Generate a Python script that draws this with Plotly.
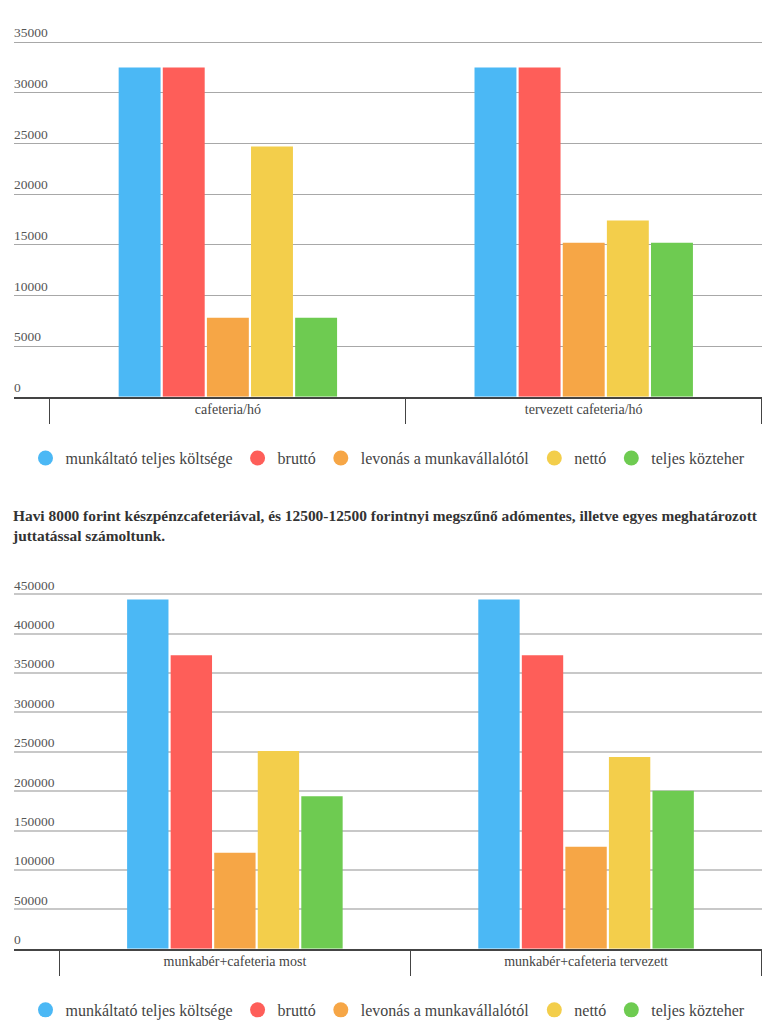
import plotly.graph_objects as go

# adatok
series = ["munkáltató teljes költsége", "bruttó", "levonás a munkavállalótól", "nettó", "teljes közteher"]
colors = ["#4BB8F5", "#FE5E59", "#F6A646", "#F3CE4B", "#6ECB51"]

cats_top = ["cafeteria/hó", "tervezett cafeteria/hó"]
vals_top = [
    [32500, 32500],
    [32500, 32500],
    [7800, 15200],
    [24700, 17400],
    [7800, 15200],
]

cats_bottom = ["munkabér+cafeteria most", "munkabér+cafeteria tervezett"]
vals_bottom = [
    [443500, 443500],
    [372500, 372500],
    [122000, 129500],
    [251000, 243500],
    [193500, 200500],
]

note = ("Havi 8000 forint készpénzcafeteriával, és 12500-12500 forintnyi megszűnő adómentes, illetve egyes meghatározott"
        "<br>juttatással számoltunk.")

FONT = "Liberation Serif"

fig = go.Figure()

for i, name in enumerate(series):
    fig.add_trace(go.Bar(x=cats_top, y=vals_top[i], name=name, marker_color=colors[i],
                         marker_line_width=0, showlegend=False, xaxis="x", yaxis="y"))
    fig.add_trace(go.Bar(x=cats_bottom, y=vals_bottom[i], name=name, marker_color=colors[i],
                         marker_line_width=0, showlegend=False, xaxis="x2", yaxis="y2"))
    # legend entries with round markers
    fig.add_trace(go.Scatter(x=[None], y=[None], mode="markers", name=name,
                             marker=dict(color=colors[i], size=15, symbol="circle"),
                             legend="legend", xaxis="x", yaxis="y"))
    fig.add_trace(go.Scatter(x=[None], y=[None], mode="markers", name=name,
                             marker=dict(color=colors[i], size=15, symbol="circle"),
                             legend="legend2", xaxis="x2", yaxis="y2"))

xcommon = dict(type="category", showgrid=False, showline=True, linecolor="#444", linewidth=2,
               ticks="outside", tickson="boundaries", ticklen=25, tickcolor="#444", tickwidth=1,
               ticklabelstandoff=-2, tickfont=dict(family=FONT, size=14, color="#444"),
               fixedrange=True)
ycommon = dict(showgrid=True, zeroline=False, ticks="", ticklabelposition="inside top",
               ticklabelstandoff=-3, tickformat="d",
               tickfont=dict(family=FONT, size=13.5, color="#555"), fixedrange=True)

fig.update_layout(
    width=776, height=1027,
    margin=dict(l=14, r=14, t=0, b=0),
    paper_bgcolor="white", plot_bgcolor="white",
    font=dict(family=FONT, color="#333"),
    barmode="group", bargap=0.38, bargroupgap=0.05,
    xaxis=dict(xcommon, anchor="y", range=[-0.601, 1.501]),
    # range above the last gridline leaves room for the label sitting on top of it
    yaxis=dict(ycommon, domain=[0.6137, 0.9837], range=[0, 37500],
               tickvals=[0, 5000, 10000, 15000, 20000, 25000, 30000, 35000],
               gridcolor="#a8a8a8", gridwidth=1),
    xaxis2=dict(xcommon, anchor="y2", range=[-0.629, 1.501]),
    yaxis2=dict(ycommon, domain=[0.0762, 0.4443], range=[0, 480000],
                tickvals=[0, 50000, 100000, 150000, 200000, 250000, 300000, 350000, 400000, 450000],
                gridcolor="#c8c8c8", gridwidth=1.5),
    legend=dict(orientation="h", x=0.5, xanchor="center", y=0.554, yanchor="middle",
                font=dict(family=FONT, size=16, color="#444"), itemclick=False),
    legend2=dict(orientation="h", x=0.5, xanchor="center", y=0.0166, yanchor="middle",
                 font=dict(family=FONT, size=16, color="#444"), itemclick=False),
    annotations=[dict(text=note, xref="paper", yref="paper", x=0, y=0.488, xanchor="left",
                      xshift=-4, yanchor="middle", align="left", showarrow=False,
                      font=dict(family=FONT, size=15.4, color="#333", weight="bold"))],
)

fig.write_html("out.html", config={"displayModeBar": False},
               post_script="document.body.style.margin='0';")
